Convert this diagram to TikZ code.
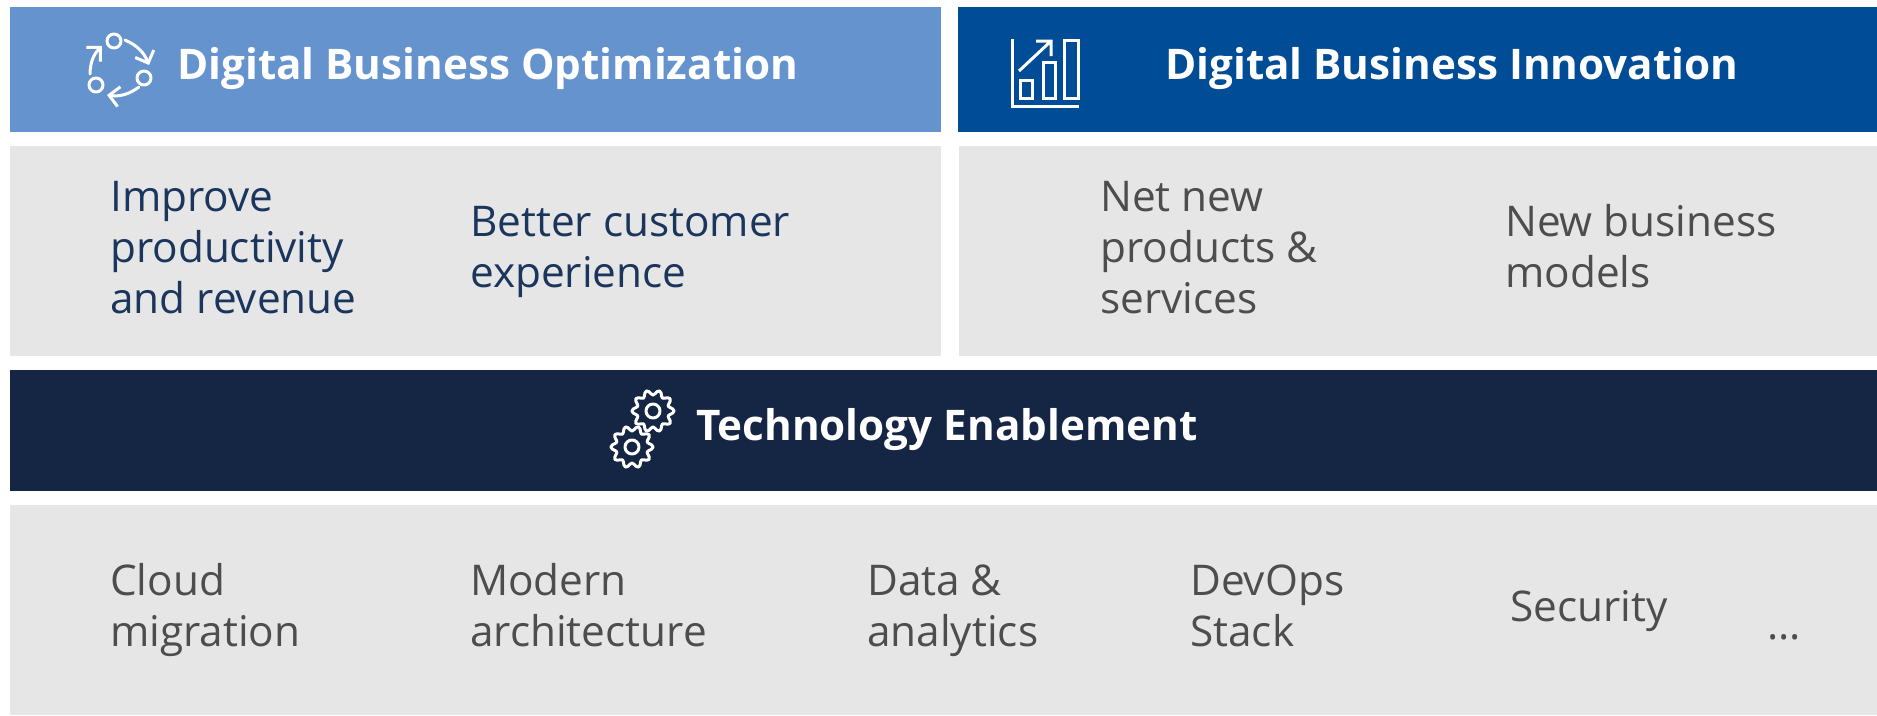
\documentclass[tikz,border=0pt]{standalone}
\usepackage{fontspec}
\setmainfont{Open Sans}
\usetikzlibrary{arrows.meta}
\definecolor{lightblue}{HTML}{6593CE}
\definecolor{midblue}{HTML}{004C97}
\definecolor{darknavy}{HTML}{152644}
\definecolor{panel}{HTML}{E6E6E6}
\definecolor{navytext}{HTML}{1B365D}
\definecolor{greytext}{HTML}{4D4D4D}
\newcommand{\lnst}{\rule[-14pt]{0pt}{50pt}}
\tikzset{
  band/.style={anchor=north west,inner sep=0pt,outer sep=0pt,minimum width=#1},
  title/.style={anchor=west,inner sep=0pt,text=white,font=\fontsize{42.2}{50}\selectfont\bfseries},
  item/.style={anchor=west,inner sep=0pt,align=left,font=\fontsize{42.3}{51}\selectfont},
  navy/.style={item,text=navytext},
  grey/.style={item,text=greytext},
  icon/.style={draw=white,line width=3pt,line cap=round,line join=round},
  hook/.style={-{Straight Barb[length=10pt,width=20pt,line width=3pt]}}
}
\newcommand{\gearat}[2]{%
  \draw[icon] plot[smooth cycle,domain=0:354,samples=60] ({#1+(18.5+2.6*cos(10*\x))*cos(\x)},{#2+(18.5+2.6*cos(10*\x))*sin(\x)});
  \draw[icon] (#1,#2) circle[radius=7];
}
\begin{document}
\begin{tikzpicture}[x=1pt,y=-1pt]
\useasboundingbox (0,0) rectangle (1877,715);
\fill[white] (0,0) rectangle (1877,715);
\node[band=931pt,minimum height=125pt,fill=lightblue] (optband) at (10,7) {};
\node[band=919pt,minimum height=125pt,fill=midblue] (innoband) at (958,7) {};
\node[band=931pt,minimum height=210pt,fill=panel] (optpanel) at (10,146) {};
\node[band=918pt,minimum height=210pt,fill=panel] (innopanel) at (959,146) {};
\node[band=1867pt,minimum height=121pt,fill=darknavy] (techband) at (10,370) {};
\node[band=1867pt,minimum height=210pt,fill=panel] (techpanel) at (10,505) {};

\node[title] (opttitle) at (177,68) {\lnst Digital Business Optimization};
\node[title] (innotitle) at (1165,68) {\lnst Digital Business Innovation};
\node[title] (techtitle) at (696,429) {\lnst Technology Enablement};

\node[navy] (improve) at (110,251) {\lnst Improve\\productivity\\and revenue\lnst};
\node[navy] (better) at (470,251) {\lnst Better customer\\experience\lnst};
\node[grey] (netnew) at (1100,251) {\lnst Net new\\products \&\\services\lnst};
\node[grey] (newbiz) at (1505,251) {\lnst New business\\models\lnst};
\node[grey] (cloud) at (110,610) {\lnst Cloud\\migration\lnst};
\node[grey] (modern) at (470,610) {\lnst Modern\\architecture\lnst};
\node[grey] (data) at (867,610) {\lnst Data \&\\analytics\lnst};
\node[grey] (devops) at (1190,610) {\lnst DevOps\\Stack\lnst};
\node[grey] (security) at (1510,610) {\lnst Security};
\node[grey] (more) at (1767,628) {\lnst ...};

% cycle icon
\draw[icon] (114,41) circle[radius=7] (144,78) circle[radius=7] (96,85) circle[radius=7];
\draw[icon,hook] (125,40) to[bend left=22] (149,65);
\draw[icon,hook] (139,87) to[bend left=22] (107,95);
\draw[icon,hook] (90,74) to[bend left=22] (102,46);

% chart icon
\draw[icon,line cap=butt,line join=miter] (1012,39) -- (1012,106) -- (1079,106);
\draw[icon,line cap=butt,line join=miter] (1020,80) rectangle (1032,98) (1043,62) rectangle (1055,98) (1064,40) rectangle (1078,98);
\draw[icon,line cap=butt,line join=miter] (1019,71) -- (1050,42) (1036,41) -- (1051,41) -- (1051,56);

% gears icon
\gearat{653}{411}
\gearat{632}{447}
\end{tikzpicture}
\end{document}
